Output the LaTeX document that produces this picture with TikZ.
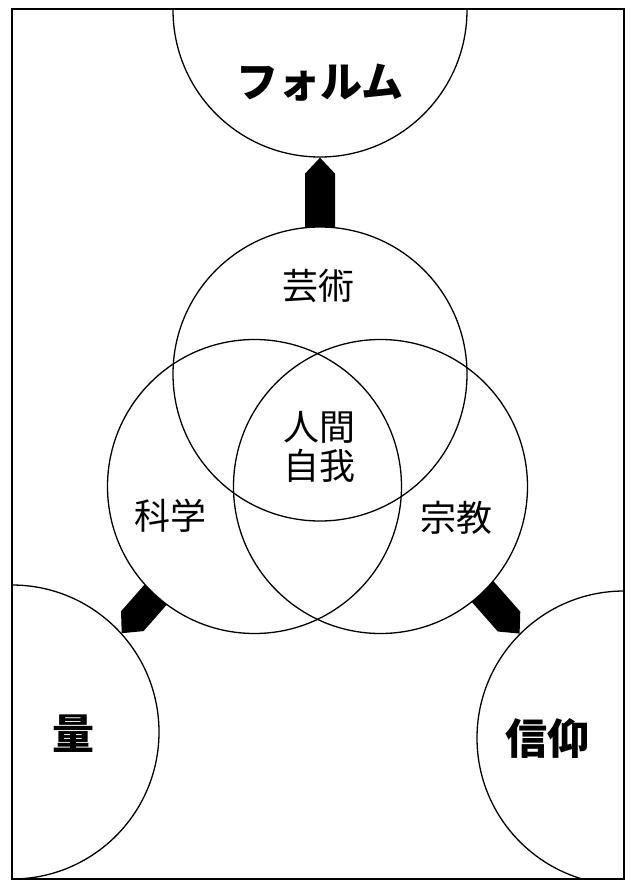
\documentclass[tikz,border=0pt]{standalone}
\usepackage{fontspec}
\newfontfamily\jp{Noto Sans CJK JP}
\usetikzlibrary{calc}
\tikzset{
  ring/.style={circle, draw, line width=1.3pt, minimum size=294pt, inner sep=0pt},
  inlabel/.style={font=\jp\fontsize{36}{39}\selectfont, inner sep=0pt, align=center},
  outlabel/.style={font=\jp\bfseries\fontsize{42}{44}\selectfont, inner sep=0pt},
  pointer/.style={fill=black},
  frame/.style={draw, line width=1.6pt},
}
\begin{document}
\begin{tikzpicture}[x=1pt,y=-1pt]
\useasboundingbox (0,0) rectangle (630,881);
\coordinate (cForm) at (320,10);
\coordinate (cArt) at (320,374);
\coordinate (cSci) at (254.5,486.5);
\coordinate (cRel) at (380.5,486.5);
\coordinate (cQty) at (12,732);
\coordinate (cFaith) at (624,738);
\begin{scope}
  \clip (12,9) rectangle (624,879);
  % outer circles
  \node[ring] (form) at (cForm) {};
  \node[ring] (qty) at (cQty) {};
  \node[ring] (faith) at (cFaith) {};
  % tips of the thick pointers
  \coordinate (tipT) at (form.south);
  \coordinate (tipL) at (qty.42);
  \coordinate (tipR) at (faith.135);
  \fill[pointer] (tipT) -- ($(tipT)+(15,16)$) -- ($(tipT)+(15,80)$) -- ($(tipT)+(-15,80)$) -- ($(tipT)+(-15,16)$) -- cycle;
  \fill[pointer] (tipL) -- ($(tipL)+(21.8,-2.1)$) -- ($(tipL)+(64.05,-50.1)$) -- ($(tipL)+(41.55,-69.9)$) -- ($(tipL)+(-0.7,-21.9)$) -- cycle;
  \fill[pointer] (tipR) -- ($(tipR)+(0.7,-21.9)$) -- ($(tipR)+(-41.55,-69.9)$) -- ($(tipR)+(-64.05,-50.1)$) -- ($(tipR)+(-21.8,-2.1)$) -- cycle;
  % Venn circles
  \fill[white] (cArt) circle[radius=147pt];
  \fill[white] (cSci) circle[radius=147pt];
  \fill[white] (cRel) circle[radius=147pt];
  \node[ring] (art) at (cArt) {};
  \node[ring] (sci) at (cSci) {};
  \node[ring] (rel) at (cRel) {};
\end{scope}
\draw[frame] (12,9) rectangle (624,879);
% labels
\node[outlabel] (tForm) at (320,83) {フォルム};
\node[inlabel] (tArt) at (318,286) {芸術};
\node[inlabel] (tCore) at (319,447) {人間\\自我};
\node[inlabel] (tSci) at (170,516) {科学};
\node[inlabel] (tRel) at (456,518) {宗教};
\node[outlabel] (tQty) at (73,734) {量};
\node[outlabel] (tFaith) at (547,738) {信仰};
\end{tikzpicture}
\end{document}
